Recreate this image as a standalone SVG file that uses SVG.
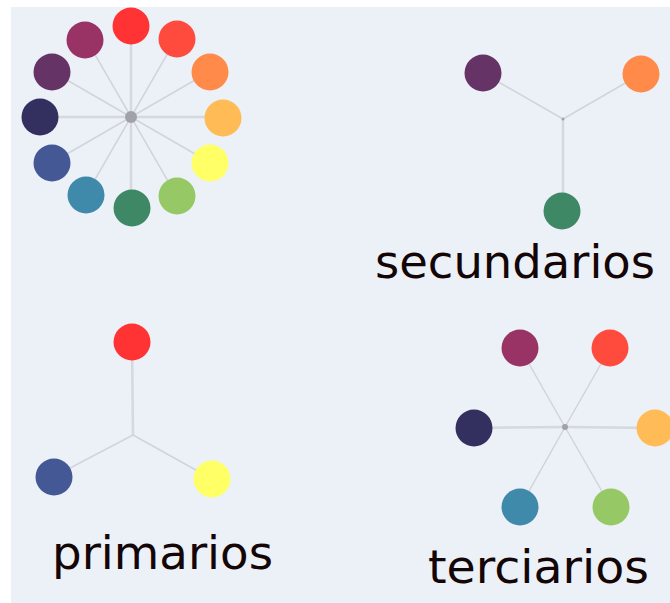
<svg xmlns="http://www.w3.org/2000/svg" width="670" height="603" viewBox="0 0 670 603">
<style>
.bg{fill:#ecf0f7}
.ln{stroke:#d2d4dc;stroke-width:1.5;fill:none}
.lnh{stroke:#d6d8e0;stroke-width:2.5;fill:none}
.hub{fill:#a0a2a8}
.lbl{font-family:"DejaVu Sans",sans-serif;font-size:46px;fill:#140606}
.r{fill:#ff3333}.ro{fill:#ff4b3e}.o{fill:#ff8a4a}.yo{fill:#ffbb55}.y{fill:#ffff66}.yg{fill:#96c966}
.g{fill:#3e8866}.bg2{fill:#3f8aab}.b{fill:#435895}.bv{fill:#33305f}.v{fill:#663366}.rv{fill:#993366}
</style>
<rect x="0" y="0" width="670" height="603" fill="#ffffff"/>
<rect class="bg" x="11" y="7" width="659" height="596"/>
<g id="connectors">
  <!-- wheel -->
  <g>
    <line class="lnh" x1="131" y1="117" x2="131" y2="26"/>
    <line class="lnh" x1="131" y1="117" x2="131" y2="208"/>
    <line class="lnh" x1="131" y1="117" x2="40" y2="117"/>
    <line class="lnh" x1="131" y1="117" x2="222" y2="117"/>
    <line class="ln" x1="131" y1="117" x2="176.5" y2="38.2"/>
    <line class="ln" x1="131" y1="117" x2="209.8" y2="71.5"/>
    <line class="ln" x1="131" y1="117" x2="209.8" y2="162.5"/>
    <line class="ln" x1="131" y1="117" x2="176.5" y2="195.8"/>
    <line class="ln" x1="131" y1="117" x2="85.5" y2="195.8"/>
    <line class="ln" x1="131" y1="117" x2="52.2" y2="162.5"/>
    <line class="ln" x1="131" y1="117" x2="52.2" y2="71.5"/>
    <line class="ln" x1="131" y1="117" x2="85.5" y2="38.2"/>
  </g>
  <!-- secundarios -->
  <line class="ln" x1="563" y1="119" x2="483" y2="73"/>
  <line class="ln" x1="563" y1="119" x2="641" y2="74"/>
  <line class="lnh" x1="563" y1="119" x2="563" y2="211"/>
  <!-- primarios -->
  <line class="lnh" x1="133" y1="435" x2="132" y2="342"/>
  <line class="ln" x1="133" y1="435" x2="53" y2="477"/>
  <line class="ln" x1="133" y1="435" x2="212" y2="479"/>
  <!-- terciarios -->
  <line class="ln" x1="565" y1="427" x2="520" y2="348"/>
  <line class="ln" x1="565" y1="427" x2="610" y2="348"/>
  <line class="lnh" x1="565" y1="427" x2="473" y2="428"/>
  <line class="lnh" x1="565" y1="427" x2="655" y2="428"/>
  <line class="ln" x1="565" y1="427" x2="520" y2="507"/>
  <line class="ln" x1="565" y1="427" x2="611" y2="507"/>
</g>
<g id="wheel-hub"><circle class="hub" cx="131" cy="117" r="6"/></g>
<g id="wheel">
  <circle class="r" cx="131" cy="26" r="18.5"/>
  <circle class="ro" cx="177" cy="39" r="18.5"/>
  <circle class="o" cx="210" cy="72" r="18.5"/>
  <circle class="yo" cx="223" cy="118" r="18.5"/>
  <circle class="y" cx="210" cy="163" r="18.5"/>
  <circle class="yg" cx="177" cy="196" r="18.5"/>
  <circle class="g" cx="132" cy="208" r="18.5"/>
  <circle class="bg2" cx="86" cy="195" r="18.5"/>
  <circle class="b" cx="52" cy="163" r="18.5"/>
  <circle class="bv" cx="40" cy="117" r="18.5"/>
  <circle class="v" cx="52" cy="72" r="18.5"/>
  <circle class="rv" cx="85" cy="40" r="18.5"/>
</g>
<g id="secundarios">
  <circle class="v" cx="483" cy="73" r="18.5"/>
  <circle class="o" cx="641" cy="74" r="18.5"/>
  <circle class="g" cx="562" cy="211" r="18.5"/>
  <circle class="hub" cx="563" cy="119" r="1.5"/>
  <text class="lbl" x="375" y="278" textLength="280" lengthAdjust="spacingAndGlyphs">secundarios</text>
</g>
<g id="primarios">
  <circle class="r" cx="132" cy="342" r="18.5"/>
  <circle class="b" cx="54" cy="477" r="18.5"/>
  <circle class="y" cx="212" cy="479" r="18.5"/>
  <text class="lbl" x="52" y="569" textLength="221" lengthAdjust="spacingAndGlyphs">primarios</text>
</g>
<g id="terciarios">
  <circle class="hub" cx="565" cy="427" r="3"/>
  <circle class="rv" cx="520" cy="348" r="18.5"/>
  <circle class="ro" cx="610" cy="348" r="18.5"/>
  <circle class="bv" cx="474" cy="428" r="18.5"/>
  <circle class="yo" cx="655" cy="428" r="18.5"/>
  <circle class="bg2" cx="520" cy="507" r="18.5"/>
  <circle class="yg" cx="611" cy="507" r="18.5"/>
  <text class="lbl" x="428" y="583" textLength="221" lengthAdjust="spacingAndGlyphs">terciarios</text>
</g>
</svg>
